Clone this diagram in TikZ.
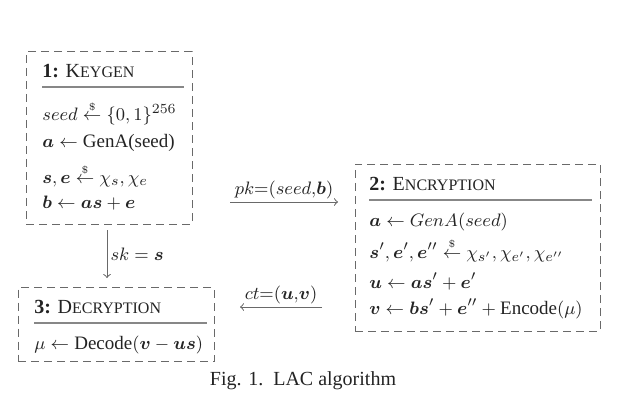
\documentclass[tikz,border=0pt]{standalone}
\usepackage{amssymb, amsmath}
\usepackage{fontspec}
\setmainfont{Liberation Serif}
\usepackage{tikz}
\definecolor{ink}{RGB}{35, 35, 35}
\definecolor{frame}{RGB}{105, 105, 105}
\newcommand{\scap}[2]{#1{\fontsize{8}{9}\selectfont #2}}
\newcommand{\rnd}{\stackrel{\scriptscriptstyle\$}{\leftarrow}}
\newcommand{\bv}[1]{\boldsymbol{#1}}
\tikzset{
  algbox/.style={draw=frame, dash pattern=on 4pt off 2.5pt, line width=0.5pt, inner sep=0pt},
  algtitle/.style={anchor=base west, inner sep=0pt, text=ink},
  algline/.style={anchor=base west, inner sep=0pt, text=ink, font=\fontsize{9.5}{11}\selectfont},
  algrule/.style={draw=frame!80, line width=1pt},
  msg/.style={->, draw=frame, line width=0.5pt},
  msglabel/.style={font=\small, text=ink, inner sep=1.5pt}
}

\begin{document}
\begin{tikzpicture}[x=0.5pt, y=-0.5pt]
  \useasboundingbox (0, 0) rectangle (635, 406);

  % keygen
  \node[algbox, minimum width=83pt, minimum height=86pt] (keygen) at (109, 138) {};
  \node[algtitle] (kg0) at (42, 78) {\textbf{1:} \scap{K}{EYGEN}};
  \draw[algrule] (42, 87) -- (184, 87);
  \node[algline] (kg1) at (42, 121) {$seed \rnd \{0,1\}^{256}$};
  \node[algline] (kg2) at (42, 148) {$\bv{a} \leftarrow \text{GenA(seed)}$};
  \node[algline] (kg3) at (42, 184) {$\bv{s}, \bv{e} \rnd \chi_s, \chi_e$};
  \node[algline] (kg4) at (42, 208) {$\bv{b} \leftarrow \bv{a}\bv{s} + \bv{e}$};

  % encryption
  \node[algbox, minimum width=122.5pt, minimum height=83.5pt] (enc) at (477.5, 247.5) {};
  \node[algtitle] (en0) at (369, 190) {\textbf{2:} \scap{E}{NCRYPTION}};
  \draw[algrule] (369, 200) -- (592, 200);
  \node[algline] (en1) at (369, 226) {$\bv{a} \leftarrow GenA(seed)$};
  \node[algline] (en2) at (369, 258) {$\bv{s}', \bv{e}', \bv{e}'' \rnd \chi_{s'}, \chi_{e'}, \chi_{e''}$};
  \node[algline] (en3) at (369, 288) {$\bv{u} \leftarrow \bv{a}\bv{s}' + \bv{e}'$};
  \node[algline] (en4) at (369, 314) {$\bv{v} \leftarrow \bv{b}\bv{s}' + \bv{e}'' + \text{Encode}(\mu)$};

  % decryption
  \node[algbox, minimum width=98pt, minimum height=37pt] (dec) at (116, 324.5) {};
  \node[algtitle] (de0) at (34, 313) {\textbf{3:} \scap{D}{ECRYPTION}};
  \draw[algrule] (34, 323) -- (207, 323);
  \node[algline] (de1) at (34, 349) {$\mu \leftarrow \text{Decode}(\bv{v} - \bv{u}\bv{s})$};

  % messages
  \coordinate (pk0) at (230, 202);
  \coordinate (pk1) at (338, 202);
  \draw[msg] (pk0) -- node[msglabel, above] {$pk{=}(seed{,}\bv{b})$} (pk1);
  \coordinate (ct0) at (322, 307);
  \coordinate (ct1) at (240, 307);
  \draw[msg] (ct0) -- node[msglabel, above] {$ct{=}(\bv{u}{,}\bv{v})$} (ct1);
  \coordinate (sk0) at (107, 230);
  \coordinate (sk1) at (107, 278);
  \draw[msg] (sk0) -- node[msglabel, right] {$sk = \bv{s}$} (sk1);

  \node[text=ink] (caption) at (303, 381) {Fig. 1.\ \ LAC algorithm};
\end{tikzpicture}
\end{document}
